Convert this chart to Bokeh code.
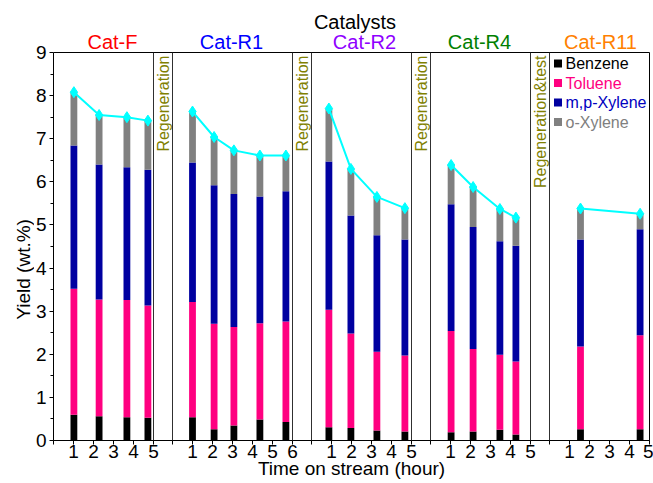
import numpy as np
from bokeh.plotting import figure
from bokeh.models import ColumnDataSource, FixedTicker, Span, Range1d
from bokeh.layouts import row, column
from bokeh.embed import file_html
from bokeh.resources import INLINE
from bokeh.core.properties import value

FONT = "Liberation Sans"

# ---------------- data ----------------
catalysts = ["Cat-F", "Cat-R1", "Cat-R2", "Cat-R4", "Cat-R11"]
catalyst_colors = ["#FF0000", "#0000FF", "#8F00FF", "#008000", "#FF8000"]
hour_ticks = [[1, 2, 3, 4, 5], [1, 2, 3, 4, 5, 6], [1, 2, 3, 4, 5], [1, 2, 3, 4, 5], [1, 2, 3, 4, 5]]
panel_hours = [5, 6, 5, 5, 5]
regen_labels = ["Regeneration", "Regeneration", "Regeneration", "Regeneration&test"]

# bar positions on each catalyst's time axis (hour)
times = [
    [1.02, 2.28, 3.67, 4.72],
    [1.00, 2.08, 3.07, 4.37, 5.67],
    [0.87, 1.97, 3.27, 4.67],
    [1.03, 2.13, 3.47, 4.27],
    [1.55, 4.53],
]
# yields (wt.%) of each product
benzene = [
    [0.60, 0.56, 0.54, 0.53],
    [0.54, 0.26, 0.35, 0.49, 0.43],
    [0.31, 0.29, 0.23, 0.21],
    [0.19, 0.21, 0.25, 0.14],
    [0.26, 0.26],
]
toluene = [
    [2.92, 2.71, 2.72, 2.60],
    [2.67, 2.45, 2.28, 2.23, 2.33],
    [2.72, 2.19, 1.83, 1.76],
    [2.35, 1.91, 1.74, 1.69],
    [1.92, 2.18],
]
mp_xylene = [
    [3.32, 3.13, 3.08, 3.15],
    [3.24, 3.21, 3.09, 2.94, 3.02],
    [3.44, 2.74, 2.70, 2.69],
    [2.94, 2.83, 2.63, 2.69],
    [2.48, 2.46],
]
o_xylene = [
    [1.24, 1.15, 1.16, 1.14],
    [1.18, 1.12, 1.01, 0.95, 0.83],
    [1.23, 1.08, 0.89, 0.73],
    [0.91, 0.93, 0.75, 0.65],
    [0.72, 0.36],
]
species = ["Benzene", "Toluene", "m,p-Xylene", "o-Xylene"]
species_colors = ["#000000", "#FF0080", "#0000A0", "#808080"]
legend_text_colors = ["#000000", "#FF0080", "#0000C0", "#808080"]

# ---------------- layout helpers ----------------
GAP = 0.95
offsets = []
pos = 0.0
for w in panel_hours:
    offsets.append(pos)
    pos += w + GAP
X_MAX = 29.8
Y_MAX = 9
PX_PER_Y = 388 / Y_MAX

x_range = Range1d(0, X_MAX)
y_range = Range1d(0, Y_MAX)

# ---------------- main plot ----------------
p = figure(width=600, height=431, x_range=x_range, y_range=y_range, y_axis_type=None,
           output_backend="svg", toolbar_location=None,
           min_border_left=0, min_border_right=4, min_border_top=0, min_border_bottom=43)
p.background_fill_color = "white"
p.border_fill_color = "white"
p.xgrid.visible = False
p.ygrid.visible = False
p.outline_line_color = "black"
p.outline_line_alpha = 1.0
p.outline_line_width = 1

xs, b, t, m, o = [], [], [], [], []
for i in range(len(catalysts)):
    for j, tt in enumerate(times[i]):
        xs.append(offsets[i] + tt)
        b.append(benzene[i][j]); t.append(toluene[i][j])
        m.append(mp_xylene[i][j]); o.append(o_xylene[i][j])
src = ColumnDataSource(dict(x=xs, benzene=b, toluene=t, mp=m, o=o))
p.vbar_stack(["benzene", "toluene", "mp", "o"], x="x", width=0.34, source=src,
             fill_color=species_colors, line_color=None)

for i in range(len(catalysts)):
    px = [offsets[i] + tt for tt in times[i]]
    tot = list(np.array(benzene[i]) + np.array(toluene[i]) + np.array(mp_xylene[i]) + np.array(o_xylene[i]))
    p.line(px, tot, line_color="#00FFFF", line_width=2)
    p.scatter(px, tot, marker="diamond", size=11, fill_color="#00FFFF", line_color="#00FFFF")

for i in range(len(catalysts) - 1):
    right = offsets[i] + panel_hours[i]
    left_next = offsets[i + 1]
    for loc in (right, left_next):
        p.add_layout(Span(location=loc, dimension="height", line_color="#303030", line_width=1))
    p.text(x=[(right + left_next) / 2], y=[8.93], text=[regen_labels[i]], angle=np.pi / 2,
           text_align="right", text_baseline="middle", text_color="#808000",
           text_font=value(FONT), text_font_size=value("16px"))

ticks, overrides = [], {}
for i in range(len(catalysts)):
    loc0 = round(offsets[i], 4)
    ticks.append(loc0)
    overrides[loc0] = ""
    for h in hour_ticks[i]:
        loc = round(offsets[i] + h, 4)
        if loc <= X_MAX + 1e-9:
            ticks.append(loc)
            overrides[loc] = str(h)
xa = p.xaxis[0]
xa.ticker = FixedTicker(ticks=ticks, minor_ticks=[])
xa.major_label_overrides = overrides
xa.axis_line_color = "black"
xa.major_tick_line_color = "black"
xa.major_tick_in = 0
xa.major_tick_out = 4
xa.major_label_text_font = FONT
xa.major_label_text_font_size = "19px"
xa.major_label_text_color = "black"
xa.major_label_standoff = 0
xa.axis_label = "Time on stream (hour)"
xa.axis_label_text_font = FONT
xa.axis_label_text_font_size = "19px"
xa.axis_label_text_font_style = "normal"
xa.axis_label_text_color = "black"
xa.axis_label_standoff = -3

leg_y = [8.745, 8.29, 7.84, 7.385]
p.scatter(x=[25.225] * 4, y=leg_y, marker="square", size=8, fill_color=species_colors, line_color=None)
p.text(x=[25.6] * 4, y=leg_y, text=species, text_color=legend_text_colors, text_baseline="middle",
       text_align="left", text_font=value(FONT), text_font_size=value("16px"))

# ---------------- top strip with catalyst names ----------------
ptop = figure(width=600, height=52, x_range=x_range, y_range=Range1d(Y_MAX, Y_MAX + 52 / PX_PER_Y),
              x_axis_type=None, y_axis_type=None, output_backend="svg", toolbar_location=None,
              min_border_left=0, min_border_right=4, min_border_top=0, min_border_bottom=0)
ptop.outline_line_color = None
ptop.background_fill_color = "white"
ptop.border_fill_color = "white"
cat_centers = [2.95, 8.9, 15.55, 21.3, 27.35]
ptop.text(x=cat_centers, y=[9.244] * 5, text=catalysts, text_color=catalyst_colors,
          text_align="center", text_baseline="middle", text_font=value(FONT), text_font_size=value("20px"))
ptop.text(x=[15.075], y=[9.708], text=["Catalysts"], text_color="black",
          text_align="center", text_baseline="middle", text_font=value(FONT), text_font_size=value("20px"))

# ---------------- y axis column ----------------
paxis = figure(width=19, height=483, x_range=Range1d(0, 1), y_range=y_range, x_axis_type=None,
               output_backend="svg", toolbar_location=None,
               min_border_left=18, min_border_right=0, min_border_top=52, min_border_bottom=43)
paxis.outline_line_color = None
paxis.xgrid.visible = False
paxis.ygrid.visible = False
ya = paxis.yaxis[0]
ya.ticker = FixedTicker(ticks=list(range(10)), minor_ticks=[k + 0.5 for k in range(9)])
ya.axis_line_color = None
ya.major_tick_line_color = "black"
ya.minor_tick_line_color = "black"
ya.major_tick_in = 0
ya.major_tick_out = 4
ya.minor_tick_in = 0
ya.minor_tick_out = 3
ya.major_label_text_font = FONT
ya.major_label_text_font_size = "19px"
ya.major_label_text_color = "black"
ya.major_label_standoff = 3

# ---------------- y title column ----------------
ptitle = figure(width=34, height=483, x_range=Range1d(0, 34), y_range=Range1d(0, 483),
                x_axis_type=None, y_axis_type=None, output_backend="svg", toolbar_location=None,
                min_border_left=0, min_border_right=0, min_border_top=0, min_border_bottom=0)
ptitle.outline_line_color = None
ptitle.text(x=[23], y=[213], text=["Yield (wt.%)"], angle=np.pi / 2, text_color="black",
            text_align="center", text_baseline="middle", text_font=value(FONT), text_font_size=value("19px"))

layout = row(ptitle, paxis, column(ptop, p, spacing=0), spacing=0)
open("out.html", "w").write(file_html(layout, INLINE))
